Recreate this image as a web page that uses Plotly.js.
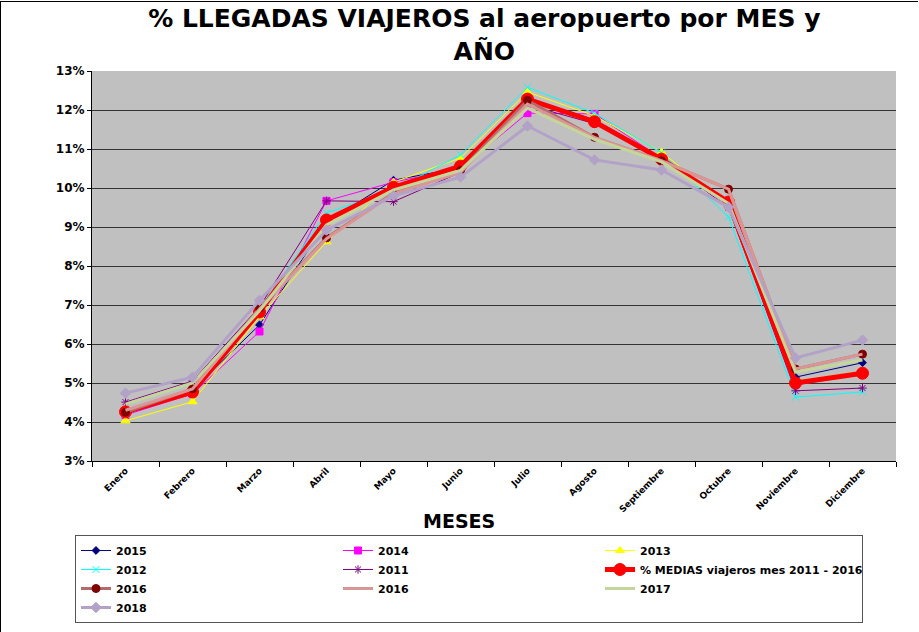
<!DOCTYPE html>
<html>
<head>
<meta charset="utf-8">
<script src="https://cdn.plot.ly/plotly-3.0.1.min.js"></script>
<style>
  body { margin: 0; background: #fff; }
  #wrap { position: relative; width: 919px; height: 632px; }
  #frame { position: absolute; left: 0; top: 1px; width: 917px; height: 640px;
           border-left: 1px solid #000; border-top: 1px solid #000; pointer-events: none; }
</style>
</head>
<body>
<div id="wrap">
  <div id="myDiv" style="width:919px;height:632px;"></div>
  <div id="frame"></div>
</div>
<script>
// months on the x axis
var meses = ['Enero', 'Febrero', 'Marzo', 'Abril', 'Mayo', 'Junio', 'Julio',
             'Agosto', 'Septiembre', 'Octubre', 'Noviembre', 'Diciembre'];

// % of yearly arrivals per month
var y2015  = [4.30, 4.82, 6.49, 9.13, 10.20, 10.52, 12.30, 11.75, 10.76, 9.60, 5.15, 5.52];
var y2014  = [4.18, 4.72, 6.32, 9.67, 10.15, 10.50, 11.92, 11.90, 10.76, 9.55, 4.95, 5.22];
var y2013  = [4.03, 4.52, 6.70, 8.62, 10.15, 10.77, 12.46, 11.85, 10.92, 9.55, 5.05, 5.30];
var y2012  = [4.20, 4.80, 6.90, 9.36, 9.95, 10.85, 12.58, 11.92, 10.90, 9.26, 4.64, 4.77];
var y2011  = [4.51, 5.05, 6.95, 9.67, 9.65, 10.40, 12.13, 11.65, 10.75, 9.50, 4.80, 4.87];
var media  = [4.26, 4.77, 6.82, 9.18, 10.02, 10.56, 12.28, 11.70, 10.74, 9.64, 5.00, 5.25];
var y2016  = [4.25, 4.85, 6.92, 8.72, 9.87, 10.45, 12.25, 11.30, 10.70, 9.97, 5.36, 5.74];
var y2016b = [4.30, 4.85, 6.90, 8.70, 9.85, 10.40, 12.15, 11.30, 10.70, 9.97, 5.36, 5.74];
var y2017  = [4.46, 5.00, 6.85, 9.05, 9.95, 10.45, 12.05, 11.25, 10.67, 9.60, 5.28, 5.59];
var y2018  = [4.74, 5.15, 7.12, 8.92, 9.80, 10.28, 11.59, 10.72, 10.46, 9.51, 5.64, 6.10];

var FONT = 'DejaVu Sans, Verdana, sans-serif';

function serie(name, ys, color, width, symbol, msize, mcolor) {
  var t = {
    x: meses, y: ys, name: name, type: 'scatter',
    mode: symbol ? 'lines+markers' : 'lines',
    line: { color: color, width: width }
  };
  if (symbol) {
    t.marker = { symbol: symbol, size: msize, color: mcolor || color,
                 line: { color: mcolor || color, width: 1 } };
  }
  return t;
}

var data = [
  serie('2015', y2015, '#000080', 1, 'diamond', 6),
  serie('2014', y2014, '#FF00FF', 1, 'square', 7),
  serie('2013', y2013, '#FFFF00', 1, 'triangle-up', 8),
  serie('2012', y2012, '#00FFFF', 1, 'x-thin-open', 7),
  serie('2011', y2011, '#800080', 1, 'asterisk-open', 7),
  serie('% MEDIAS viajeros mes 2011 - 2016', media, '#FF0000', 5, 'circle', 12),
  serie('2016', y2016, '#B26B6B', 3, 'circle', 8, '#800000'),
  serie('2016', y2016b, '#DA9694', 3),
  serie('2017', y2017, '#C3D69B', 3),
  serie('2018', y2018, '#B3A2C7', 3, 'diamond', 8)
];

var layout = {
  width: 919, height: 632,
  margin: { l: 92, r: 23, t: 71, b: 171 },
  paper_bgcolor: '#FFFFFF',
  plot_bgcolor: '#C0C0C0',
  font: { family: FONT, color: '#000' },
  title: {
    text: '<b>% LLEGADAS VIAJEROS al aeropuerto por MES y<br>AÑO</b>',
    font: { family: FONT, size: 25, color: '#000' },
    x: 0.527, xanchor: 'center', y: 0.957, yanchor: 'top'
  },
  xaxis: {
    type: 'category',
    range: [-0.5, 11.5],
    automargin: false,
    tickangle: -45,
    tickson: 'boundaries',
    ticks: 'outside', ticklen: 5, tickcolor: '#000',
    showline: true, linecolor: '#000', linewidth: 1,
    showgrid: false,
    tickfont: { family: FONT, size: 9, color: '#000', weight: 'bold' }
  },
  yaxis: {
    automargin: false,
    range: [3, 13], dtick: 1, ticksuffix: '%',
    ticks: 'outside', ticklen: 4, tickcolor: '#000',
    showline: true, linecolor: '#000', linewidth: 1,
    gridcolor: '#333333', gridwidth: 1,
    zeroline: false,
    tickfont: { family: FONT, size: 12, color: '#000', weight: 'bold' }
  },
  annotations: [{
    text: '<b>MESES</b>', xref: 'paper', yref: 'paper',
    x: 0.456, y: -0.154, yanchor: 'middle', showarrow: false,
    font: { family: FONT, size: 19, color: '#000' }
  }],
  legend: {
    orientation: 'h',
    xref: 'container', yref: 'container',
    x: 0.0816, xanchor: 'left', y: 0.1535, yanchor: 'top',
    entrywidth: 217,
    bordercolor: '#555', borderwidth: 1,
    bgcolor: '#FFFFFF',
    font: { family: FONT, size: 11, color: '#000', weight: 'bold' },
    tracegroupgap: 0,
    itemwidth: 30
  },
  showlegend: true
};

Plotly.newPlot('myDiv', data, layout, { displayModeBar: false, staticPlot: true });
</script>
</body>
</html>
